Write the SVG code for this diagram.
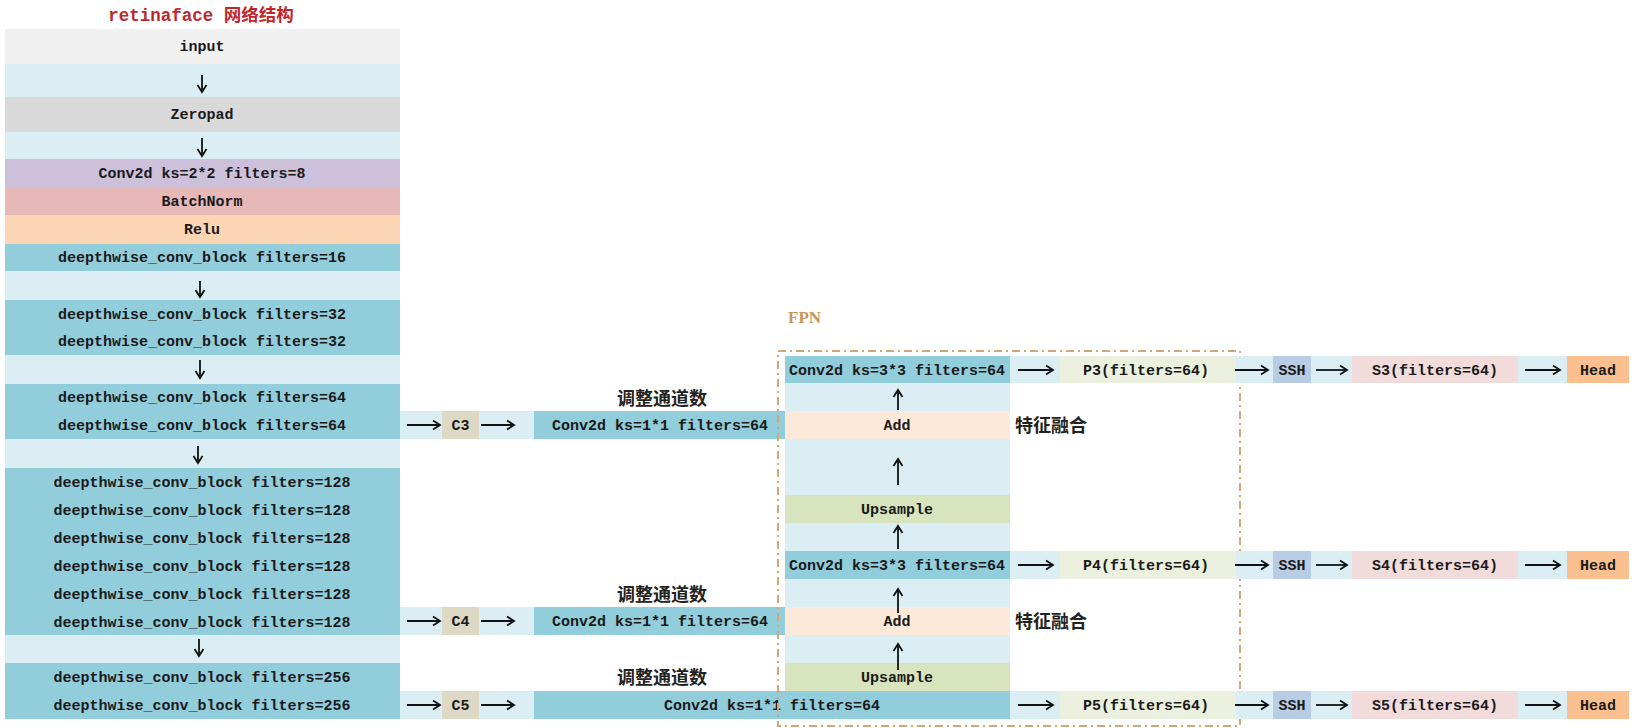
<svg xmlns="http://www.w3.org/2000/svg" width="1637" height="728" viewBox="0 0 1637 728">
<style>
.t{font-family:"Liberation Mono","DejaVu Sans Mono","Noto Sans CJK SC",monospace;font-size:15px;font-weight:bold;fill:#1a1a1a;text-anchor:middle}
.cn{font-family:"Noto Sans CJK SC",sans-serif;font-size:18px;font-weight:bold;fill:#222}
.lb{fill:#daeef3}
.db{fill:#92cddc}
.add{fill:#fde9d9}
.up{fill:#d7e4bd}
.p{fill:#ebf1de}
.ssh{fill:#b8cce4}
.s{fill:#f2dcdb}
.head{fill:#fac090}
.c{fill:#ddd9c4}
.ar{stroke:#111;stroke-width:1.8;fill:none;marker-end:url(#ah)}
</style>
<defs>
<marker id="ah" viewBox="-9 -6 11 12" refX="0" refY="0" markerWidth="11" markerHeight="12" markerUnits="userSpaceOnUse" orient="auto">
<path d="M-7,-4.5 L0,0 L-7,4.5" fill="none" stroke="#111" stroke-width="1.8"/>
</marker>
</defs>
<rect width="1637" height="728" fill="#ffffff"/>

<text x="201" y="21" style="font-family:'Liberation Mono','Noto Sans CJK SC',monospace;font-size:17.5px;font-weight:bold;fill:#c0282d;text-anchor:middle">retinaface 网络结构</text>

<g id="backbone">
<rect x="5" y="29" width="395" height="35" fill="#f0f0f0"/>
<text class="t" x="202" y="51">input</text>
<rect class="lb" x="5" y="64" width="395" height="33"/>
<rect x="5" y="97" width="395" height="35" fill="#d9d9d9"/>
<text class="t" x="202" y="119">Zeropad</text>
<rect class="lb" x="5" y="132" width="395" height="27"/>
<rect x="5" y="159" width="395" height="28" fill="#ccc0da"/>
<text class="t" x="202" y="178">Conv2d ks=2*2 filters=8</text>
<rect x="5" y="187" width="395" height="28" fill="#e6b9b8"/>
<text class="t" x="202" y="206">BatchNorm</text>
<rect x="5" y="215" width="395" height="29" fill="#fcd5b5"/>
<text class="t" x="202" y="234">Relu</text>
<rect class="db" x="5" y="244" width="395" height="27"/>
<text class="t" x="202" y="262">deepthwise_conv_block filters=16</text>
<rect class="lb" x="5" y="271" width="395" height="29"/>
<rect class="db" x="5" y="300" width="395" height="55"/>
<text class="t" x="202" y="319">deepthwise_conv_block filters=32</text>
<text class="t" x="202" y="346">deepthwise_conv_block filters=32</text>
<rect class="lb" x="5" y="355" width="395" height="29"/>
<rect class="db" x="5" y="384" width="395" height="55"/>
<text class="t" x="202" y="402">deepthwise_conv_block filters=64</text>
<text class="t" x="202" y="430">deepthwise_conv_block filters=64</text>
<rect class="lb" x="5" y="439" width="395" height="29"/>
<rect class="db" x="5" y="468" width="395" height="167"/>
<text class="t" x="202" y="487">deepthwise_conv_block filters=128</text>
<text class="t" x="202" y="515">deepthwise_conv_block filters=128</text>
<text class="t" x="202" y="543">deepthwise_conv_block filters=128</text>
<text class="t" x="202" y="571">deepthwise_conv_block filters=128</text>
<text class="t" x="202" y="599">deepthwise_conv_block filters=128</text>
<text class="t" x="202" y="627">deepthwise_conv_block filters=128</text>
<rect class="lb" x="5" y="635" width="395" height="28"/>
<rect class="db" x="5" y="663" width="395" height="56"/>
<text class="t" x="202" y="682">deepthwise_conv_block filters=256</text>
<text class="t" x="202" y="710">deepthwise_conv_block filters=256</text>
</g>

<g id="c3-branch">
<rect class="lb" x="400" y="411" width="134" height="28"/>
<rect class="c" x="442" y="411" width="37" height="28"/>
<text class="t" x="460.5" y="430">C3</text>
<text class="cn" x="662" y="405" text-anchor="middle">调整通道数</text>
<rect class="db" x="534" y="411" width="251" height="28"/>
<text class="t" x="660" y="430">Conv2d ks=1*1 filters=64</text>
</g>

<g id="c4-branch">
<rect class="lb" x="400" y="607" width="134" height="28"/>
<rect class="c" x="442" y="607" width="37" height="28"/>
<text class="t" x="460.5" y="626">C4</text>
<text class="cn" x="662" y="601" text-anchor="middle">调整通道数</text>
<rect class="db" x="534" y="607" width="251" height="28"/>
<text class="t" x="660" y="626">Conv2d ks=1*1 filters=64</text>
</g>

<g id="c5-branch">
<rect class="lb" x="400" y="691" width="134" height="28"/>
<rect class="c" x="442" y="691" width="37" height="28"/>
<text class="t" x="460.5" y="710">C5</text>
<text class="cn" x="662" y="684" text-anchor="middle">调整通道数</text>
<rect class="db" x="534" y="691" width="476" height="28"/>
<text class="t" x="772" y="710">Conv2d ks=1*1 filters=64</text>
</g>

<g id="fpn">
<rect class="db" x="785" y="356" width="225" height="27"/>
<text class="t" x="897" y="375">Conv2d ks=3*3 filters=64</text>
<rect class="lb" x="785" y="383" width="225" height="28"/>
<rect class="add" x="785" y="411" width="225" height="28"/>
<text class="t" x="897" y="430">Add</text>
<rect class="lb" x="785" y="439" width="225" height="56"/>
<rect class="up" x="785" y="495" width="225" height="28"/>
<text class="t" x="897" y="514">Upsample</text>
<rect class="lb" x="785" y="523" width="225" height="28"/>
<rect class="db" x="785" y="551" width="225" height="28"/>
<text class="t" x="897" y="570">Conv2d ks=3*3 filters=64</text>
<rect class="lb" x="785" y="579" width="225" height="28"/>
<rect class="add" x="785" y="607" width="225" height="28"/>
<text class="t" x="897" y="626">Add</text>
<rect class="lb" x="785" y="635" width="225" height="28"/>
<rect class="up" x="785" y="663" width="225" height="28"/>
<text class="t" x="897" y="682">Upsample</text>
<text class="cn" x="1015" y="432">特征融合</text>
<text class="cn" x="1015" y="628">特征融合</text>
<text x="788" y="323" style="font-family:'Liberation Serif',serif;font-size:17px;font-weight:bold;fill:#c8955a">FPN</text>
<rect x="778" y="351" width="462" height="375" fill="none" stroke="#d2a679" stroke-width="2" stroke-dasharray="8 4 2 4"/>
</g>

<g id="level3">
<rect class="lb" x="1010" y="356" width="619" height="27"/>
<rect class="p" x="1060" y="356" width="176" height="27"/>
<text class="t" x="1146" y="375">P3(filters=64)</text>
<rect class="ssh" x="1273" y="356" width="38" height="27"/>
<text class="t" x="1292" y="375">SSH</text>
<rect class="s" x="1352" y="356" width="166" height="27"/>
<text class="t" x="1435" y="375">S3(filters=64)</text>
<rect class="head" x="1567" y="356" width="62" height="27"/>
<text class="t" x="1598" y="375">Head</text>
</g>

<g id="level4">
<rect class="lb" x="1010" y="551" width="619" height="28"/>
<rect class="p" x="1060" y="551" width="176" height="28"/>
<text class="t" x="1146" y="570">P4(filters=64)</text>
<rect class="ssh" x="1273" y="551" width="38" height="28"/>
<text class="t" x="1292" y="570">SSH</text>
<rect class="s" x="1352" y="551" width="166" height="28"/>
<text class="t" x="1435" y="570">S4(filters=64)</text>
<rect class="head" x="1567" y="551" width="62" height="28"/>
<text class="t" x="1598" y="570">Head</text>
</g>

<g id="level5">
<rect class="lb" x="1010" y="691" width="619" height="28"/>
<rect class="p" x="1060" y="691" width="176" height="28"/>
<text class="t" x="1146" y="710">P5(filters=64)</text>
<rect class="ssh" x="1273" y="691" width="38" height="28"/>
<text class="t" x="1292" y="710">SSH</text>
<rect class="s" x="1352" y="691" width="166" height="28"/>
<text class="t" x="1435" y="710">S5(filters=64)</text>
<rect class="head" x="1567" y="691" width="62" height="28"/>
<text class="t" x="1598" y="710">Head</text>
</g>

<g id="connectors">
<path class="ar" d="M202,75 V92"/>
<path class="ar" d="M202,138 V156"/>
<path class="ar" d="M200,281 V297"/>
<path class="ar" d="M200,360 V378"/>
<path class="ar" d="M198,446 V463"/>
<path class="ar" d="M199,639 V656"/>
<path class="ar" d="M407,425 H440"/>
<path class="ar" d="M481,425 H514"/>
<path class="ar" d="M407,621 H440"/>
<path class="ar" d="M481,621 H514"/>
<path class="ar" d="M407,705 H440"/>
<path class="ar" d="M481,705 H514"/>
<path class="ar" d="M898,410 V390"/>
<path class="ar" d="M898,485 V459"/>
<path class="ar" d="M898,549 V526"/>
<path class="ar" d="M898,613 V589"/>
<path class="ar" d="M898,670 V644"/>
<path class="ar" d="M1018,370 H1053"/>
<path class="ar" d="M1235,370 H1268"/>
<path class="ar" d="M1316,370 H1347"/>
<path class="ar" d="M1525,370 H1560"/>
<path class="ar" d="M1018,565 H1053"/>
<path class="ar" d="M1235,565 H1268"/>
<path class="ar" d="M1316,565 H1347"/>
<path class="ar" d="M1525,565 H1560"/>
<path class="ar" d="M1018,705 H1053"/>
<path class="ar" d="M1235,705 H1268"/>
<path class="ar" d="M1316,705 H1347"/>
<path class="ar" d="M1525,705 H1560"/>
</g>
</svg>
